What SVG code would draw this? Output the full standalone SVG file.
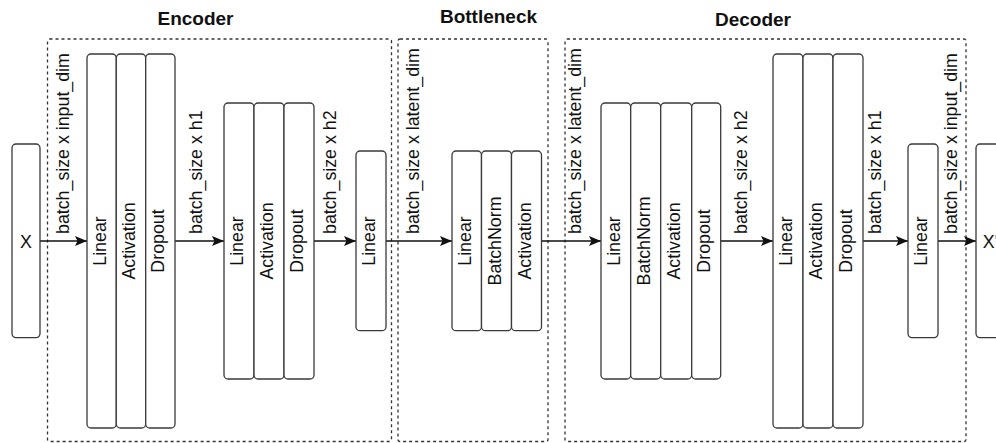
<svg xmlns="http://www.w3.org/2000/svg" width="996" height="443" viewBox="0 0 996 443">
<defs>
<style>
.blk{fill:#fff;stroke:#3a3a3a;stroke-width:1.3}
.grp{fill:none;stroke:#333;stroke-width:1.3;stroke-dasharray:3 3}
.lbl{font-family:"Liberation Sans",Arial,sans-serif;font-size:17.8px;fill:#111;text-anchor:middle}
.elbl{font-family:"Liberation Sans",Arial,sans-serif;font-size:17.8px;fill:#111;text-anchor:start}
.ttl{font-family:"Liberation Sans",Arial,sans-serif;font-size:19px;font-weight:bold;fill:#111;text-anchor:middle}
.con{fill:none;stroke:#111;stroke-width:1.3}
</style>
<marker id="arr" markerUnits="userSpaceOnUse" markerWidth="13" markerHeight="11" refX="12" refY="5" orient="auto">
<path d="M0,0 L12,5 L0,10 L2.5,5 z" fill="#111"/>
</marker>
</defs>

<g id="groups">
<g id="encoder-group">
<rect class="grp" x="47.5" y="39" width="344" height="402.5" rx="2"/>
<text class="ttl" x="195.5" y="25">Encoder</text>
</g>
<g id="bottleneck-group">
<rect class="grp" x="398" y="39" width="150" height="402.5" rx="2"/>
<text class="ttl" x="488.5" y="23">Bottleneck</text>
</g>
<g id="decoder-group">
<rect class="grp" x="565" y="39" width="401" height="402.5" rx="2"/>
<text class="ttl" x="753" y="26">Decoder</text>
</g>
</g>

<g id="connectors">
<line class="con" x1="40" y1="241" x2="87" y2="241" marker-end="url(#arr)"/>
<line class="con" x1="175" y1="241" x2="224" y2="241" marker-end="url(#arr)"/>
<line class="con" x1="314" y1="241" x2="356" y2="241" marker-end="url(#arr)"/>
<line class="con" x1="386" y1="241" x2="452" y2="241" marker-end="url(#arr)"/>
<line class="con" x1="541.5" y1="241" x2="601" y2="241" marker-end="url(#arr)"/>
<line class="con" x1="720.7" y1="241" x2="773" y2="241" marker-end="url(#arr)"/>
<line class="con" x1="863" y1="241" x2="908" y2="241" marker-end="url(#arr)"/>
<line class="con" x1="938" y1="241" x2="976" y2="241" marker-end="url(#arr)"/>
<text class="elbl" transform="translate(68.5,234) rotate(-90)">batch_size x input_dim</text>
<text class="elbl" transform="translate(201.5,234) rotate(-90)">batch_size x h1</text>
<text class="elbl" transform="translate(336.3,234) rotate(-90)">batch_size x h2</text>
<text class="elbl" transform="translate(419.3,234) rotate(-90)">batch_size x latent_dim</text>
<text class="elbl" transform="translate(581.3,234) rotate(-90)">batch_size x latent_dim</text>
<text class="elbl" transform="translate(746.5,234) rotate(-90)">batch_size x h2</text>
<text class="elbl" transform="translate(881.3,234) rotate(-90)">batch_size x h1</text>
<text class="elbl" transform="translate(957,234) rotate(-90)">batch_size x input_dim</text>
</g>

<g id="input-x">
<rect class="blk" x="12" y="144" width="28" height="193.6" rx="4"/>
<text class="lbl" x="26" y="247.5">X</text>
</g>

<g id="enc-block1">
<rect class="blk" x="87" y="54" width="29.3" height="374" rx="4"/>
<rect class="blk" x="116.3" y="54" width="29.4" height="374" rx="4"/>
<rect class="blk" x="145.7" y="54" width="29.3" height="374" rx="4"/>
<text class="lbl" transform="translate(105.7,241) rotate(-90)">Linear</text>
<text class="lbl" transform="translate(135,241) rotate(-90)">Activation</text>
<text class="lbl" transform="translate(164.3,241) rotate(-90)">Dropout</text>
</g>

<g id="enc-block2">
<rect class="blk" x="224" y="103" width="30" height="276" rx="4"/>
<rect class="blk" x="254" y="103" width="30" height="276" rx="4"/>
<rect class="blk" x="284" y="103" width="30" height="276" rx="4"/>
<text class="lbl" transform="translate(243,241) rotate(-90)">Linear</text>
<text class="lbl" transform="translate(273,241) rotate(-90)">Activation</text>
<text class="lbl" transform="translate(303,241) rotate(-90)">Dropout</text>
</g>

<g id="enc-linear">
<rect class="blk" x="356" y="151" width="30" height="179.7" rx="4"/>
<text class="lbl" transform="translate(375,241) rotate(-90)">Linear</text>
</g>

<g id="bottleneck-block">
<rect class="blk" x="452" y="151" width="29.5" height="179.7" rx="4"/>
<rect class="blk" x="481.5" y="151" width="30" height="179.7" rx="4"/>
<rect class="blk" x="511.5" y="151" width="30" height="179.7" rx="4"/>
<text class="lbl" transform="translate(470.7,241) rotate(-90)">Linear</text>
<text class="lbl" transform="translate(500.5,241) rotate(-90)">BatchNorm</text>
<text class="lbl" transform="translate(530.5,241) rotate(-90)">Activation</text>
</g>

<g id="dec-block1">
<rect class="blk" x="601" y="103" width="29.7" height="276" rx="4"/>
<rect class="blk" x="630.7" y="103" width="30" height="276" rx="4"/>
<rect class="blk" x="660.7" y="103" width="31" height="276" rx="4"/>
<rect class="blk" x="691.7" y="103" width="29" height="276" rx="4"/>
<text class="lbl" transform="translate(619.8,241) rotate(-90)">Linear</text>
<text class="lbl" transform="translate(649.7,241) rotate(-90)">BatchNorm</text>
<text class="lbl" transform="translate(680.2,241) rotate(-90)">Activation</text>
<text class="lbl" transform="translate(710.2,241) rotate(-90)">Dropout</text>
</g>

<g id="dec-block2">
<rect class="blk" x="773" y="54" width="30" height="374" rx="4"/>
<rect class="blk" x="803" y="54" width="30" height="374" rx="4"/>
<rect class="blk" x="833" y="54" width="30" height="374" rx="4"/>
<text class="lbl" transform="translate(792,241) rotate(-90)">Linear</text>
<text class="lbl" transform="translate(822,241) rotate(-90)">Activation</text>
<text class="lbl" transform="translate(852,241) rotate(-90)">Dropout</text>
</g>

<g id="dec-linear">
<rect class="blk" x="908" y="144" width="30" height="193.6" rx="4"/>
<text class="lbl" transform="translate(927,241) rotate(-90)">Linear</text>
</g>

<g id="output-x">
<rect class="blk" x="976" y="144" width="29" height="193.6" rx="4"/>
<text class="lbl" x="990.5" y="247.5">X'</text>
</g>
</svg>
